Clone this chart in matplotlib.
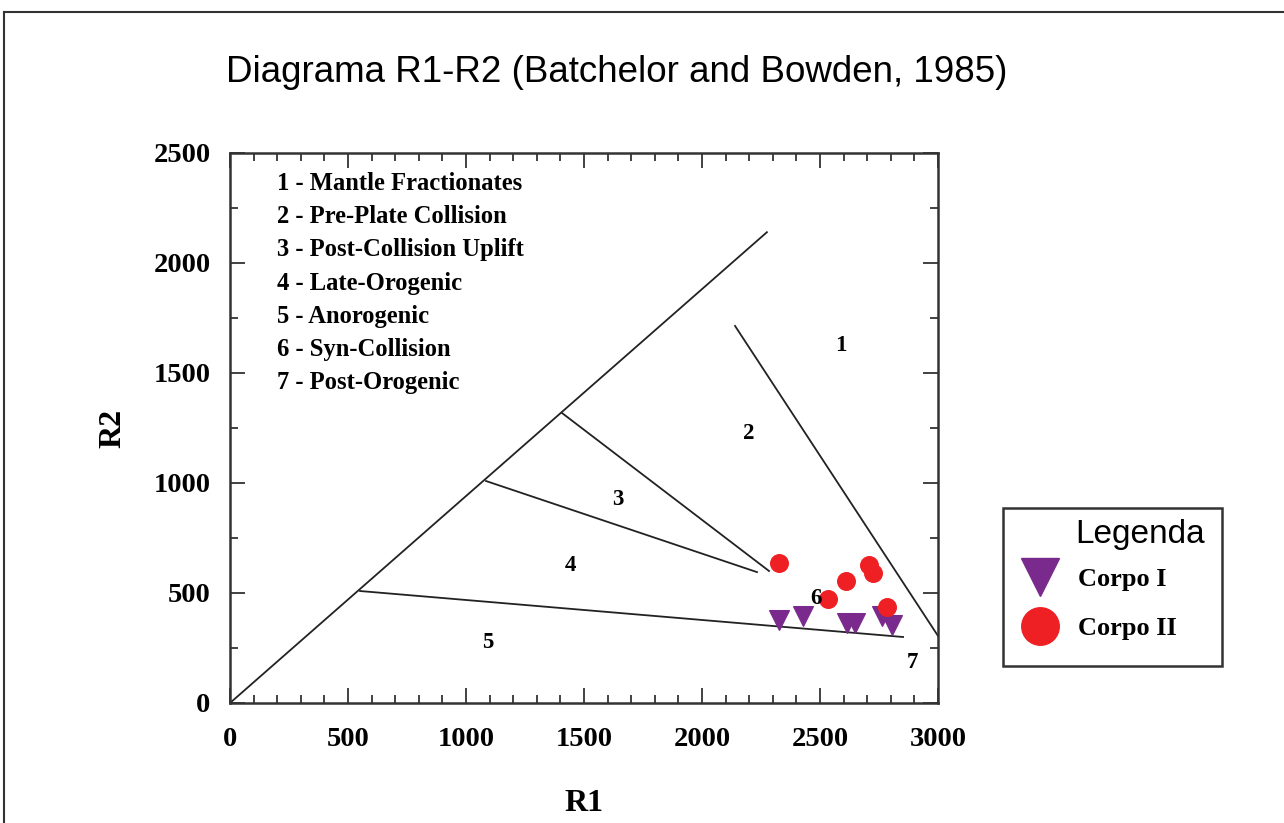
import matplotlib
matplotlib.use("Agg")
import matplotlib.pyplot as plt
from matplotlib.lines import Line2D
from matplotlib.patches import Rectangle
from matplotlib.ticker import MultipleLocator

# ---- data ----
boundary_lines = [
    ([0, 2275], [0, 2140]),
    ([2140, 3000], [1714, 305]),
    ([551, 2852], [509, 300]),
    ([1407, 2284], [1318, 600]),
    ([1085, 2233], [1009, 595]),
]
region_ids = ["1", "2", "3", "4", "5", "6", "7"]
region_x = [2589, 2199, 1644, 1441, 1093, 2483, 2890]
region_y = [1627, 1223, 923, 623, 277, 477, 186]
region_names = ["Mantle Fractionates", "Pre-Plate Collision", "Post-Collision Uplift",
                "Late-Orogenic", "Anorogenic", "Syn-Collision", "Post-Orogenic"]

corpo1_r1 = [2326, 2428, 2614, 2648, 2763, 2805]
corpo1_r2 = [377, 395, 364, 364, 395, 355]
corpo2_r1 = [2326, 2610, 2708, 2725, 2534, 2784]
corpo2_r2 = [636, 555, 627, 590, 473, 436]

x_ticks = [0, 500, 1000, 1500, 2000, 2500, 3000]
y_ticks = [0, 500, 1000, 1500, 2000, 2500]

purple = "#7A2A8C"
red = "#EE2024"

W, H = 1284, 823
fig = plt.figure(figsize=(12.84, 8.23), dpi=100)
ax = fig.add_axes([230/W, 1-703/H, (938-230)/W, (703-153)/H])

for xs, ys in boundary_lines:
    ax.plot(xs, ys, color="#222222", lw=1.3)

ax.scatter(corpo1_r1, corpo1_r2, marker="v", s=200, color=purple, zorder=3)
ax.scatter(corpo2_r1, corpo2_r2, marker="o", s=160, color=red, zorder=3)

serif = "Liberation Serif"
for t, x, y in zip(region_ids, region_x, region_y):
    ax.text(x, y, t, ha="center", va="center", fontsize=16.5, fontweight="bold", family=serif)

for i, (t, n) in enumerate(zip(region_ids, region_names)):
    ax.text(0.067, 0.945 - i * 0.0605, f"{t} - {n}", transform=ax.transAxes,
            ha="left", va="center", fontsize=17.7, fontweight="bold", family=serif)

ax.set_xlim(0, 3000)
ax.set_ylim(0, 2500)
ax.set_xticks(x_ticks)
ax.set_yticks(y_ticks)
ax.xaxis.set_minor_locator(MultipleLocator(100))
ax.yaxis.set_minor_locator(MultipleLocator(250))
ax.tick_params(which="both", direction="in", top=True, right=True, color="#333333", width=1.3)
ax.tick_params(which="major", length=11)
ax.tick_params(which="minor", length=6)
ax.tick_params(axis="y", which="major", pad=14)
ax.tick_params(axis="x", which="major", pad=17)
for lab in ax.get_xticklabels() + ax.get_yticklabels():
    lab.set_family(serif)
    lab.set_fontweight("bold")
    lab.set_fontsize(20.5)
for sp in ax.spines.values():
    sp.set_linewidth(1.8)
    sp.set_color("#333333")

ax.set_xlabel("R1", family=serif, fontweight="bold", fontsize=23, labelpad=27)
ax.set_ylabel("R2", family=serif, fontweight="bold", fontsize=23, labelpad=19)

fig.text(617/W, 1-72/H, "Diagrama R1-R2 (Batchelor and Bowden, 1985)",
         ha="center", va="center", fontsize=26.5, family="Liberation Sans")

# legend
fig.add_artist(Rectangle((1003/W, 1-666/H), (1222-1003)/W, (666-508)/H,
                         transform=fig.transFigure, facecolor="white",
                         edgecolor="#333333", lw=1.8, zorder=1))
fig.text(1075/W, 1-535/H, "Legenda", ha="left", va="center", fontsize=24,
         family="Liberation Sans", zorder=3)
handles = [
    Line2D([], [], marker="v", linestyle="none", color=purple, markersize=28),
    Line2D([], [], marker="o", linestyle="none", color=red, markersize=27),
]
leg = fig.legend(handles, ["Corpo I", "Corpo II"], loc="center left",
                 bbox_to_anchor=(1019/W, 1-604/H), borderaxespad=0, borderpad=0,
                 frameon=False, prop={"family": serif, "weight": "bold", "size": 19},
                 labelspacing=0.98, handlelength=1.6, handletextpad=0.64)
leg.set_zorder(3)

# outer frame
fig.add_artist(Line2D([4/W, 1.0], [1-12/H, 1-12/H], transform=fig.transFigure, color="#333333", lw=1.5))
fig.add_artist(Line2D([4/W, 4/W], [0, 1-12/H], transform=fig.transFigure, color="#333333", lw=1.5))

fig.savefig("out.png", dpi=100)
